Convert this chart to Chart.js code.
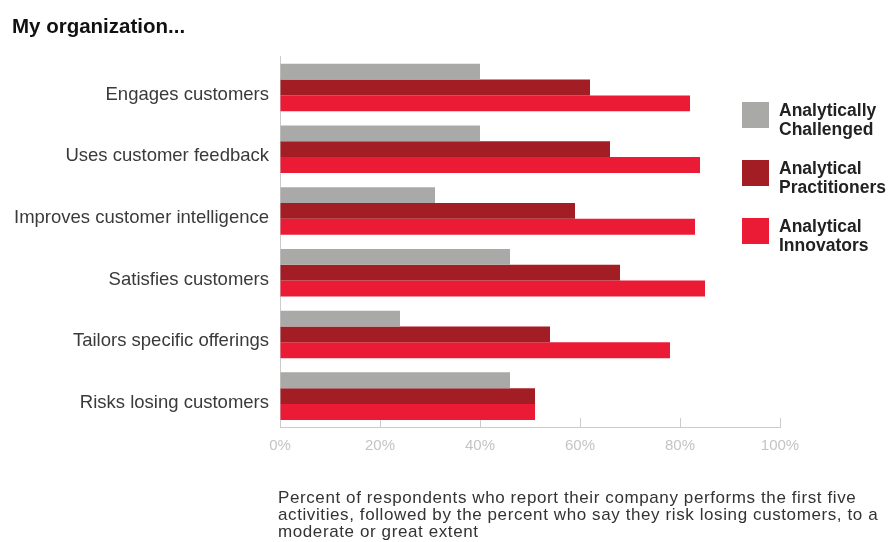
<!DOCTYPE html>
<html>
<head>
<meta charset="utf-8">
<script src="https://cdn.jsdelivr.net/npm/chart.js@4.4.0/dist/chart.umd.min.js"></script>
<style>
body { margin: 0; background: #fff; font-family: "Liberation Sans", Arial, sans-serif; }
#wrap { position: relative; width: 890px; height: 542px; }
#legend { position: absolute; left: 742px; top: 101px; }
.item { display: flex; align-items: flex-start; height: 58px; }
.box { width: 27px; height: 26px; margin-right: 10px; margin-top: 1px; }
.txt { font-weight: bold; font-size: 17.5px; line-height: 19px; color: #222; }
#note { position: absolute; left: 278px; top: 489px; font-size: 17px; letter-spacing: 0.6px; line-height: 17px; color: #333; white-space: nowrap; }
</style>
</head>
<body>
<div id="wrap">
    <canvas id="chartOrg" width="890" height="542"></canvas>
    <div id="legend"></div>
    <div id="note">Percent of respondents who report their company performs the first five<br>activities, followed by the percent who say they risk losing customers, to a<br>moderate or great extent</div>
</div>
<script>
var categories = [
    'Engages customers',
    'Uses customer feedback',
    'Improves customer intelligence',
    'Satisfies customers',
    'Tailors specific offerings',
    'Risks losing customers'
];
var challenged    = [40, 40, 31, 46, 24, 46];
var practitioners = [62, 66, 59, 68, 54, 51];
var innovators    = [82, 84, 83, 85, 78, 51];
var xTicks = [0, 20, 40, 60, 80, 100];
var seriesNames  = [['Analytically', 'Challenged'], ['Analytical', 'Practitioners'], ['Analytical', 'Innovators']];
var seriesColors = ['#a9a9a7', '#a31d24', '#ec1b35'];

function drawLegend() {
    var html = '';
    for (var i = 0; i < seriesNames.length; i++) {
        html += '<div class="item"><div class="box" style="background:' + seriesColors[i] + '"></div>' +
                '<div class="txt">' + seriesNames[i].join('<br>') + '</div></div>';
    }
    document.getElementById('legend').innerHTML = html;
}

function drawChart() {
    var ctx = document.getElementById('chartOrg');
    var series = [challenged, practitioners, innovators];
    var datasets = [];
    for (var i = 0; i < series.length; i++) {
        datasets.push({
            label: seriesNames[i].join(' '),
            data: series[i],
            backgroundColor: seriesColors[i],
            barPercentage: 1,
            categoryPercentage: 0.77
        });
    }
    new Chart(ctx, {
        type: 'bar',
        data: { labels: categories, datasets: datasets },
        options: {
            indexAxis: 'y',
            responsive: false,
            animation: false,
            layout: { padding: { left: 12, right: 110, top: 0, bottom: 68 } },
            plugins: {
                legend: { display: false },
                tooltip: { enabled: false },
                title: {
                    display: true,
                    text: 'My organization...',
                    align: 'start',
                    color: '#111',
                    font: { size: 20.5, weight: 'bold' },
                    padding: { top: 15, bottom: 17 }
                }
            },
            scales: {
                x: {
                    min: 0,
                    max: 100,
                    afterBuildTicks: function (scale) {
                        scale.ticks = xTicks.map(function (v) { return { value: v }; });
                    },
                    ticks: {
                        color: '#c4c4c4',
                        font: { size: 15 },
                        padding: 19,
                        callback: function (v) { return v + '%'; }
                    },
                    grid: { drawOnChartArea: false, tickLength: -9, color: '#cccccc' },
                    border: { color: '#cccccc' }
                },
                y: {
                    afterFit: function (scale) { scale.width = 268; },
                    ticks: {
                        color: '#3a3a3a',
                        font: { size: 18.5 },
                        padding: 11,
                        labelOffset: 7
                    },
                    grid: { drawOnChartArea: false, drawTicks: false },
                    border: { color: '#cccccc' }
                }
            }
        }
    });
}

drawLegend();
drawChart();
</script>
</body>
</html>
